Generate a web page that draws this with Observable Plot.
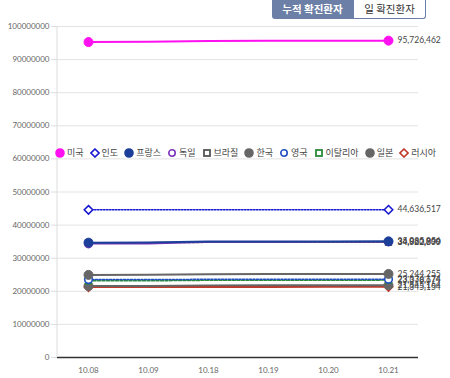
<!DOCTYPE html>
<html><head><meta charset="utf-8">
<script src="https://cdn.jsdelivr.net/npm/d3@7"></script>
<script src="https://cdn.jsdelivr.net/npm/@observablehq/plot@0.6"></script>
<style>
body{margin:0;background:#fff;font-family:Lato,"Noto Sans CJK KR",sans-serif;}
#wrap{position:relative;width:450px;height:378px;}
#btns{position:absolute;top:0;left:272px;display:flex;font-family:"Noto Sans CJK KR",sans-serif;font-size:10.5px;}
#btns div{height:19px;line-height:18px;padding:0 8px;box-sizing:border-box;}
#b1{background:#6c7fa6;color:#fff;font-weight:bold;border-radius:0 0 0 3px;width:81px;text-align:center}
#b2{background:#fff;color:#333;border:1px solid #6c7fa6;border-top:none;border-radius:0 0 3px 0;width:73px;text-align:center}
#legend{position:absolute;top:146px;left:55px;display:flex;gap:6px;font-family:"Noto Sans CJK KR",sans-serif;font-size:9px;color:#444;white-space:nowrap;}
#legend span{display:flex;align-items:center;gap:2px;}
</style></head>
<body><div id="wrap"><div id="chart"></div><div id="btns"><div id="b1">누적 확진환자</div><div id="b2">일 확진환자</div></div><div id="legend"></div></div>
<script>
const dates = ["10.08","10.09","10.18","10.19","10.20","10.21"];
const names = ["미국","인도","프랑스","독일","브라질","한국","영국","이탈리아","일본","러시아"];
const usVals      = [95300000,95380000,95620000,95660000,95700000,95726462];
const indiaVals   = [44622000,44624000,44630000,44632000,44634500,44636517];
const franceVals  = [34700000,34730000,35020000,35040000,35065000,35085956];
const germanyVals = [34350000,34380000,34880000,34910000,34940000,34962899];
const brazilVals  = [34690000,34700000,34790000,34800000,34810000,34820000];
const koreaVals   = [24960000,24990000,25180000,25210000,25230000,25244255];
const ukVals      = [23550000,23560000,23620000,23625000,23630000,23636174];
const italyVals   = [23150000,23170000,23320000,23340000,23360000,23378674];
const japanVals   = [21600000,21630000,21790000,21810000,21830000,21845164];
const russiaVals  = [21280000,21285000,21330000,21335000,21340000,21345154];
const allVals = [usVals,indiaVals,franceVals,germanyVals,brazilVals,koreaVals,ukVals,italyVals,japanVals,russiaVals];
const colors = ["#ff10f0","#1818d0","#1c3f9a","#7a35b8","#555555","#666666","#1f4fbf","#2a8a3a","#666666","#c0392b"];
const symbols = ["circle","diamond2","circle","circle","square","circle","circle","square","circle","diamond2"];
const filled = [true,false,true,false,false,true,false,false,true,false];
const dashes = [null,"1.5,1.5",null,null,"3,1.5",null,"2,1.5","3,1.5",null,null];
const widths = [2,1.5,2,1.5,1.5,2,1.5,1.5,2,2];

const marks = [
  Plot.gridY({ticks: d3.range(10000000,100000001,10000000), stroke:"#e3e3e3", strokeOpacity:1}),
];
const order = [9,8,7,6,5,4,3,2,1,0];
for (const i of order) {
  const data = dates.map((d,j)=>({date:d, value:allVals[i][j]}));
  marks.push(Plot.line(data,{x:"date",y:"value",stroke:colors[i],strokeWidth:widths[i],strokeDasharray:dashes[i]}));
}
for (const i of order) {
  const data = dates.map((d,j)=>({date:d, value:allVals[i][j]})).filter((d,j)=>j===0||j===dates.length-1);
  marks.push(Plot.dot(data,{x:"date",y:"value",symbol:()=>symbols[i],r: symbols[i]==="square"?3.2:(filled[i]?4.5:3.8),
    fill: filled[i]?colors[i]:"white", stroke:colors[i], strokeWidth: filled[i]?1:1.6}));
}
for (const i of order) {
  const last = [{date:dates[dates.length-1], value:allVals[i][dates.length-1]}];
  marks.push(Plot.text(last,{x:"date",y:"value",text:d=>d3.format(",")(d.value),dx:9,textAnchor:"start",fontSize:8.5,fill:"#444"}));
}
marks.push(Plot.ruleY([0],{stroke:"#333",strokeWidth:1.5}));

const plot = Plot.plot({
  width:450, height:378,
  marginLeft:57, marginRight:32, marginTop:26, marginBottom:21,
  style:{fontFamily:"Lato, sans-serif", fontSize:"8px", color:"#666", overflow:"visible"},
  x:{type:"point", domain:dates, padding:0.5, label:null, tickSize:0, tickPadding:10},
  y:{domain:[0,100000000], ticks:d3.range(0,100000001,10000000), tickFormat:d=>String(d), label:null, tickSize:6, tickPadding:2},
  marks
});
d3.select(plot).append("line").attr("x1",57).attr("x2",57).attr("y1",26).attr("y2",357).attr("stroke","#ddd");
d3.select(plot).selectAll("g[aria-label='y-axis tick'] path").attr("stroke","#ddd");
document.getElementById("chart").appendChild(plot);

const lg = document.getElementById("legend");
names.forEach((n,i)=>{
  const s = document.createElement("span");
  let shape;
  const c = colors[i], f = filled[i]?c:"white";
  if (symbols[i]==="circle") shape = `<circle cx="5" cy="5" r="${filled[i]?4:3.2}" fill="${f}" stroke="${c}" stroke-width="1.6"/>`;
  else if (symbols[i]==="square") shape = `<rect x="2" y="2" width="6" height="6" fill="white" stroke="${c}" stroke-width="1.8"/>`;
  else shape = `<path d="M5 1 L9 5 L5 9 L1 5Z" fill="white" stroke="${c}" stroke-width="1.6"/>`;
  s.innerHTML = `<svg width="10" height="10">${shape}</svg>${n}`;
  lg.appendChild(s);
});
</script></body></html>
